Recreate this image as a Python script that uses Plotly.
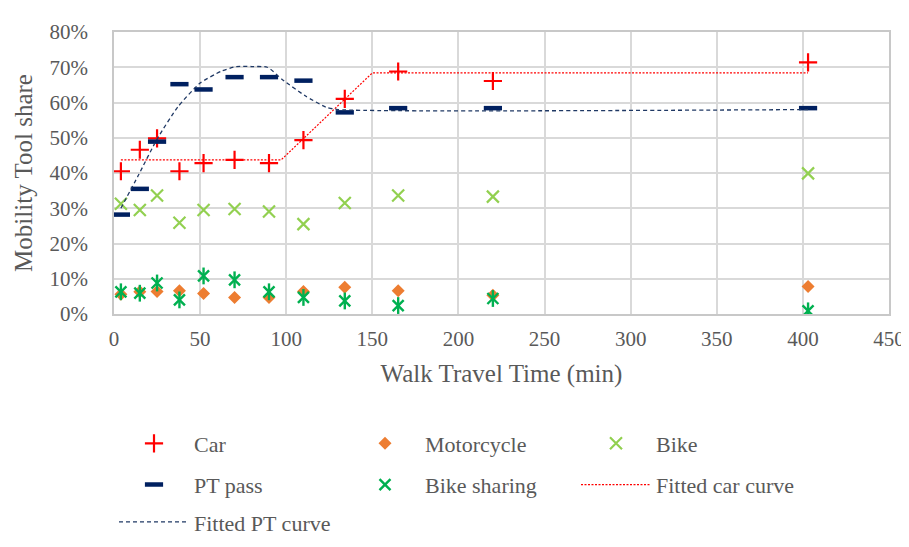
import plotly.graph_objects as go

x_vals = [4, 15, 25, 38, 52, 70, 90, 110, 134, 165, 220, 403]
car = [40.5, 46.6, 49.8, 40.5, 42.8, 43.7, 42.8, 49.3, 61.0, 68.8, 66.1, 71.4]
motorcycle = [5.6, 6.3, 6.4, 6.6, 5.8, 4.7, 4.7, 6.4, 7.6, 6.6, 5.3, 7.8]
bike = [31.3, 29.5, 33.6, 25.9, 29.5, 29.8, 29.1, 25.5, 31.5, 33.6, 33.3, 39.9]
pt_pass = [28.2, 35.5, 48.9, 65.2, 63.7, 67.2, 67.2, 66.2, 57.2, 58.4, 58.4, 58.4]
bike_sharing = [6.3, 5.9, 8.8, 4.0, 10.8, 9.7, 6.3, 4.7, 3.7, 2.4, 4.4, 0.9]

fit_car_x = [4, 97, 150, 403]
fit_car_y = [43.7, 43.7, 68.4, 68.4]
fit_pt_x = [4, 14, 25, 37, 50, 62, 71, 80, 89, 98, 111, 123, 130, 403]
fit_pt_y = [30.0, 39.2, 49.6, 58.7, 65.5, 68.8, 70.2, 70.2, 70.0, 66.4, 61.9, 58.7, 58.0, 58.0]

x_ticks = [0, 50, 100, 150, 200, 250, 300, 350, 400, 450]
y_ticks = [0, 10, 20, 30, 40, 50, 60, 70, 80]

FF = "Liberation Serif, Times New Roman, DejaVu Serif, serif"
grey = "#595959"
c_car, c_moto, c_bike, c_pt, c_bs = "#FF0000", "#ED7D31", "#92D050", "#002060", "#00B050"

fig = go.Figure()
fig.add_trace(go.Scatter(x=x_vals, y=car, mode="markers", name="Car", legend="legend",
    marker=dict(symbol="cross-thin-open", size=13, color=c_car, line=dict(color=c_car, width=2.2))))
fig.add_trace(go.Scatter(x=x_vals, y=motorcycle, mode="markers", name="Motorcycle", legend="legend",
    marker=dict(symbol="diamond", size=10, color=c_moto, line=dict(width=0))))
fig.add_trace(go.Scatter(x=x_vals, y=bike, mode="markers", name="Bike", legend="legend",
    marker=dict(symbol="x-thin-open", size=12, color=c_bike, line=dict(color=c_bike, width=2.2))))
fig.add_trace(go.Scatter(x=x_vals, y=pt_pass, mode="markers", name="PT pass", legend="legend2",
    marker=dict(symbol="line-ew-open", size=13, color=c_pt, line=dict(color=c_pt, width=4.5))))
fig.add_trace(go.Scatter(x=x_vals, y=bike_sharing, mode="markers", name="Bike sharing", legend="legend2",
    legendgroup="bs",
    marker=dict(symbol="x-thin-open", size=11, color=c_bs, line=dict(color=c_bs, width=2.4))))
fig.add_trace(go.Scatter(x=x_vals, y=bike_sharing, mode="markers", name="Bike sharing", legend="legend2",
    legendgroup="bs", showlegend=False,
    marker=dict(symbol="line-ns-open", size=12, color=c_bs, line=dict(color=c_bs, width=2.4))))
fig.add_trace(go.Scatter(x=fit_car_x, y=fit_car_y, mode="lines", name="Fitted car curve", legend="legend2",
    line=dict(color=c_car, width=1.2, dash="2px,1.5px")))
fig.add_trace(go.Scatter(x=fit_pt_x, y=fit_pt_y, mode="lines", name="Fitted PT curve", legend="legend3",
    line=dict(color="#1F3864", width=1.3, dash="4px,3px", shape="spline", smoothing=0.6)))

leg_common = dict(orientation="h", x=0.0, xanchor="left", yanchor="middle",
                  entrywidth=146, entrywidthmode="pixels", itemwidth=70,
                  font=dict(family=FF, size=22, color=grey),
                  itemclick=False, itemdoubleclick=False, bgcolor="rgba(0,0,0,0)")

fig.update_layout(
    width=909, height=547,
    margin=dict(l=106, r=20, t=18, b=235),
    paper_bgcolor="white", plot_bgcolor="white",
    font=dict(family=FF, size=21, color=grey),
    showlegend=True,
    legend=dict(leg_common, y=(312 - 447) / 294),
    legend2=dict(leg_common, y=(312 - 490) / 294),
    legend3=dict(leg_common, y=(312 - 529) / 294),
)
fig.update_xaxes(range=[0, 450], tickvals=x_ticks, ticktext=[str(v) for v in x_ticks],
    showgrid=True, gridcolor="#D9D9D9", gridwidth=1.8, zeroline=False,
    showline=True, linecolor="#C8C8C8", linewidth=1.8, mirror=True, ticks="",
    tickfont=dict(family=FF, size=21, color=grey), ticklabelstandoff=5,
    title=dict(text="Walk Travel Time (min)", font=dict(family=FF, size=25, color=grey), standoff=14))
fig.update_yaxes(range=[0, 80], tickvals=y_ticks, ticktext=[f"{v}%" for v in y_ticks],
    showgrid=True, gridcolor="#D9D9D9", gridwidth=1.8, zeroline=False,
    showline=True, linecolor="#C8C8C8", linewidth=1.8, mirror=True, ticks="",
    tickfont=dict(family=FF, size=21, color=grey), ticklabelstandoff=20,
    title=dict(text="Mobility Tool share", font=dict(family=FF, size=25, color=grey), standoff=10))

fig.write_html("out.html")
